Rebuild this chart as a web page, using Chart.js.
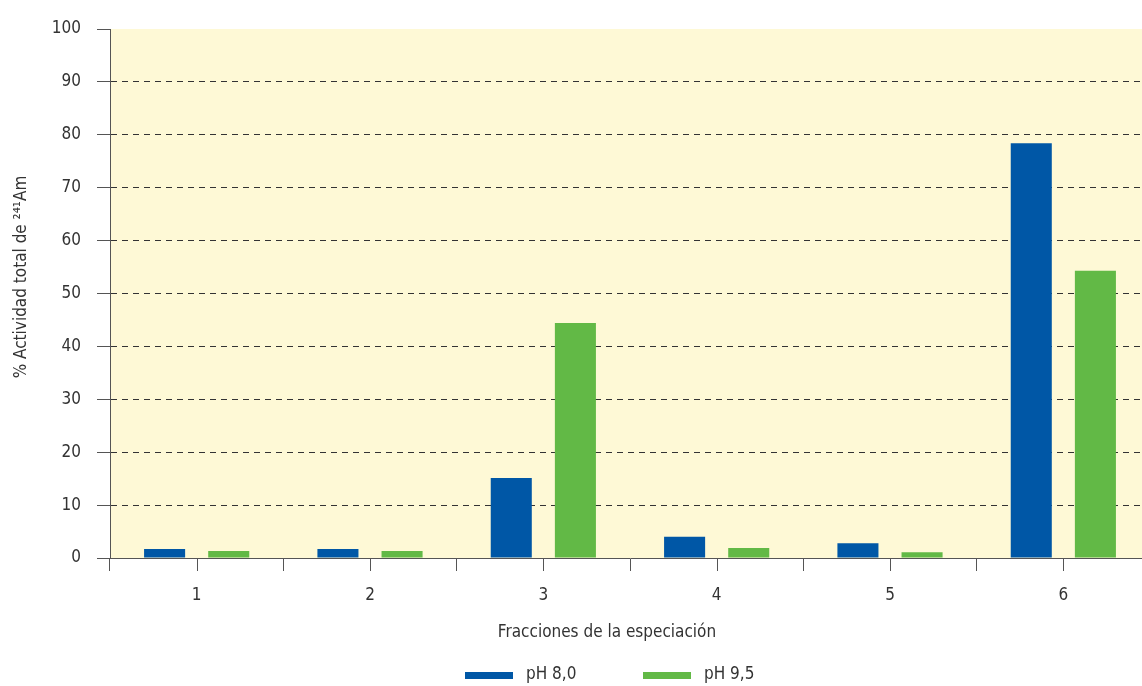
<!DOCTYPE html>
<html>
<head>
<meta charset="utf-8">
<script src="https://cdn.jsdelivr.net/npm/chart.js@4/dist/chart.umd.min.js"></script>
<style>
  html, body { margin: 0; padding: 0; background: #fff; }
  #wrap { width: 1142px; height: 686px; overflow: hidden; }
</style>
</head>
<body>
<div id="wrap"><canvas id="barChart" width="1150" height="686"></canvas></div>
<script>
  // data
  const fracciones = ['1', '2', '3', '4', '5', '6'];
  const ph80 = [1.7, 1.7, 15.1, 4.0, 2.8, 78.4];
  const ph95 = [1.3, 1.3, 44.4, 1.9, 1.1, 54.3];
  const yTicks = [0, 10, 20, 30, 40, 50, 60, 70, 80, 90, 100];

  const FONT = "'Liberation Sans Narrow', 'DejaVu Sans Condensed', sans-serif";
  const INK = '#333';

  // yellow plot background
  const plotBg = {
    id: 'plotBg',
    beforeDraw(chart) {
      const { ctx, chartArea } = chart;
      ctx.save();
      ctx.fillStyle = '#FEF9D6';
      ctx.fillRect(chartArea.left, chartArea.top, chartArea.right - chartArea.left, chartArea.bottom - chartArea.top);
      ctx.restore();
    }
  };

  // extra tick marks under the category centres, axis titles and the legend
  const decorations = {
    id: 'decorations',
    afterDraw(chart) {
      const x = chart.scales.x;
      const { ctx, chartArea } = chart;
      ctx.save();
      ctx.strokeStyle = '#555';
      ctx.lineWidth = 1;
      fracciones.forEach((f, i) => {
        const px = Math.round(x.getPixelForValue(i)) + 0.5;
        ctx.beginPath();
        ctx.moveTo(px, x.top);
        ctx.lineTo(px, x.top + 13);
        ctx.stroke();
      });

      ctx.fillStyle = INK;
      ctx.font = '17px ' + FONT;
      ctx.textBaseline = 'middle';
      ctx.textAlign = 'center';
      const midX = (chartArea.left + chartArea.right) / 2 - 23;
      ctx.fillText('Fracciones de la especiación', midX, 633);

      ctx.save();
      ctx.translate(22, 277);
      ctx.rotate(-Math.PI / 2);
      ctx.fillText('% Actividad total de ²⁴¹Am', 0, 0);
      ctx.restore();

      // legend
      ctx.textAlign = 'left';
      const legendX = [midX - 142, midX + 36];
      chart.data.datasets.forEach((ds, i) => {
        ctx.fillStyle = ds.backgroundColor;
        ctx.fillRect(legendX[i], 672, 48, 7);
        ctx.fillStyle = INK;
        ctx.fillText(ds.label, legendX[i] + 61, 675);
      });
      ctx.restore();
    }
  };

  const barCtx = document.getElementById('barChart').getContext('2d');
  const barChart = new Chart(barCtx, {
    type: 'bar',
    data: {
      labels: fracciones,
      datasets: [{
        label: 'pH 8,0',
        data: ph80,
        backgroundColor: '#0057A6',
        borderWidth: 0
      }, {
        label: 'pH 9,5',
        data: ph95,
        backgroundColor: '#62B946',
        borderWidth: 0
      }]
    },
    options: {
      responsive: false,
      animation: false,
      categoryPercentage: 0.74,
      barPercentage: 0.64,
      layout: { padding: { top: 29, left: 0, right: 0, bottom: 33 } },
      scales: {
        x: {
          grid: { offset: true, drawOnChartArea: false, tickLength: 13, tickColor: '#555' },
          border: { color: '#555', width: 1 },
          ticks: { color: INK, padding: 14, font: { family: FONT, size: 17 } },
          afterFit(scale) { scale.height = 95; }
        },
        y: {
          min: 0,
          max: 100,
          z: 1,
          afterBuildTicks(scale) { scale.ticks = yTicks.map(v => ({ value: v })); },
          grid: {
            color: ctx => (ctx.tick && (ctx.tick.value === 0 || ctx.tick.value === 100)) ? 'rgba(0,0,0,0)' : '#333',
            tickColor: '#555',
            tickLength: 13
          },
          border: { color: '#555', width: 1, dash: [6, 5] },
          ticks: { color: INK, padding: 16, font: { family: FONT, size: 17 } },
          afterFit(scale) { scale.width = 110; }
        }
      },
      plugins: {
        legend: { display: false },
        tooltip: { enabled: false }
      }
    },
    plugins: [plotBg, decorations]
  });
</script>
</body>
</html>
